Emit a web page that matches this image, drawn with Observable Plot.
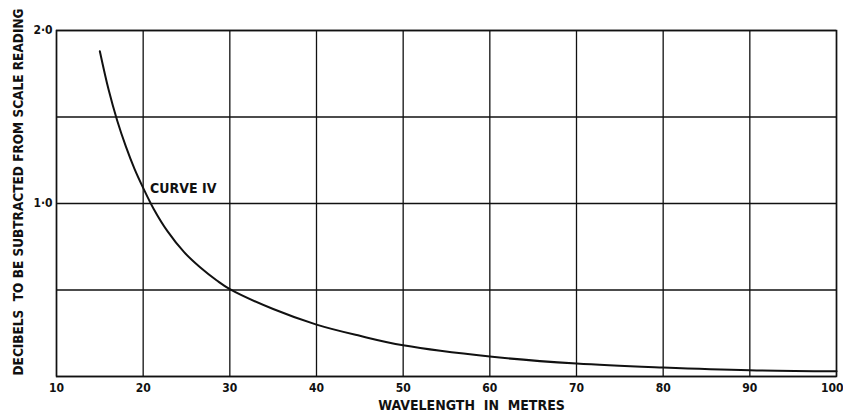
<!DOCTYPE html>
<html>
<head>
<meta charset="utf-8">
<script src="https://cdn.jsdelivr.net/npm/d3@7"></script>
<script src="https://cdn.jsdelivr.net/npm/@observablehq/plot@0.6"></script>
<style>
  html, body { margin: 0; padding: 0; background: #fff; }
  svg { display: block; }
</style>
</head>
<body>
<div id="chart"></div>
<script>
// Data
const wavelength = [15, 16, 17, 18, 19, 20, 21.2, 22.8, 24.7, 26.6, 28.5, 30, 35, 40, 45, 50, 60, 70, 80, 90, 100];
const decibels   = [1.88, 1.66, 1.48, 1.33, 1.20, 1.09, 0.97, 0.84, 0.72, 0.63, 0.555, 0.505, 0.39, 0.30, 0.235, 0.18, 0.115, 0.075, 0.052, 0.036, 0.03];
const xTicks = [10, 20, 30, 40, 50, 60, 70, 80, 90, 100];
const yGrid = [0, 0.5, 1, 1.5, 2];
const yLabelTicks = [1, 2];
const yTickText = ["1·0", "2·0"];
const curveLabel = "CURVE IV";
const curveLabelPos = {x: 20.8, y: 1.08};
const xTitle = "WAVELENGTH  IN  METRES";
const yTitle = "DECIBELS  TO BE SUBTRACTED FROM SCALE READING";

const data = wavelength.map((w, i) => ({w, d: decibels[i]}));
const font = "'DejaVu Sans Condensed', 'DejaVu Sans', sans-serif";
const lastTick = xTicks[xTicks.length - 1];

const chart = Plot.plot({
  width: 843,
  height: 416,
  marginLeft: 56,
  marginRight: 7,
  marginTop: 30,
  marginBottom: 40,
  style: {fontFamily: font, fontSize: "12px", color: "#111", background: "#fff"},
  x: {domain: [10, 100]},
  y: {domain: [0, 2]},
  marks: [
    Plot.gridX(xTicks, {stroke: "#111", strokeOpacity: 1, strokeWidth: 1.3}),
    Plot.gridY(yGrid, {stroke: "#111", strokeOpacity: 1, strokeWidth: 1.3}),
    Plot.frame({stroke: "#111", strokeWidth: 1.5}),
    Plot.axisX(xTicks.slice(0, -1), {tickSize: 0, tickPadding: 7, label: null, fontWeight: "bold", fontSize: 12}),
    Plot.axisX([lastTick], {tickSize: 0, tickPadding: 7, label: null, fontWeight: "bold", fontSize: 12,
      textAnchor: "end", dx: 7}),
    Plot.axisY(yLabelTicks, {tickSize: 0, tickPadding: 4, label: null, fontWeight: "bold", fontSize: 12,
      tickFormat: (d) => yTickText[yLabelTicks.indexOf(d)]}),
    Plot.line(data, {x: "w", y: "d", curve: "catmull-rom", stroke: "#111", strokeWidth: 2}),
    Plot.text([curveLabel], {x: () => curveLabelPos.x, y: () => curveLabelPos.y, text: (d) => d,
      textAnchor: "start", fontWeight: "bold", fontSize: 14, fill: "#111", dy: -1}),
    Plot.text([xTitle], {frameAnchor: "bottom", text: (d) => d, dy: 33, dx: 25,
      fontWeight: "bold", fontSize: 14, fill: "#111"}),
    Plot.text([yTitle], {frameAnchor: "left", text: (d) => d, rotate: -90, textAnchor: "start",
      dx: -38, dy: 172, fontWeight: "bold", fontSize: 13.5, fill: "#111"})
  ]
});
document.getElementById("chart").appendChild(chart);
</script>
</body>
</html>
